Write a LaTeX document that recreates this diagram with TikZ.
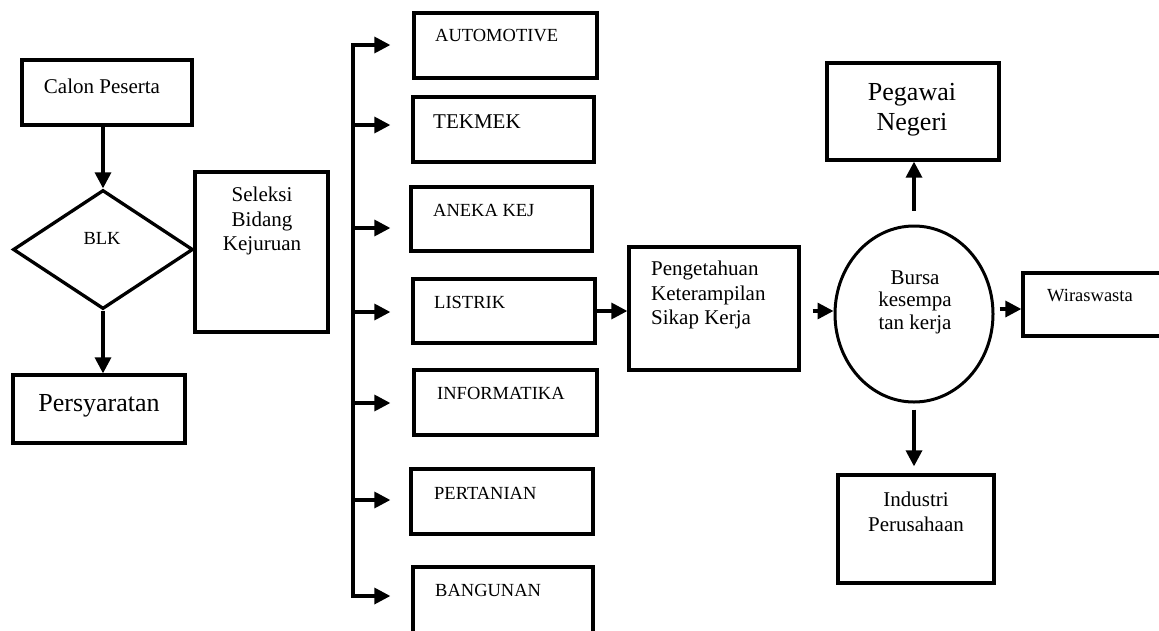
\documentclass[tikz,border=0pt]{standalone}
\usepackage{fontspec}
\setmainfont{Liberation Serif}
\usetikzlibrary{shapes.geometric,arrows.meta}
\begin{document}
\begin{tikzpicture}[x=1pt,y=-1pt,
 box/.style={draw,line width=3.3pt,inner sep=0pt},
 txt/.style={inner sep=0pt,font=\fontsize{21}{24.5}\selectfont},
 bigtxt/.style={inner sep=0pt,font=\fontsize{26}{30}\selectfont},
 smalltxt/.style={inner sep=0pt,font=\fontsize{18.5}{22}\selectfont},
 arr/.style={line width=3.3pt,-{Triangle[length=16pt,width=16pt]}}]
\useasboundingbox (0,0) rectangle (1159,630);
\fill[white] (0,0) rectangle (1159,630);
% left column
\node[box,minimum width=170pt,minimum height=65pt] (calon) at (107,92.5) {};
\node[draw,line width=3.3pt,diamond,inner sep=0pt,minimum width=180pt,minimum height=119pt] (blk) at (103,249.5) {};
\node[box,minimum width=172pt,minimum height=68pt] (persy) at (99,409) {};
\node[box,minimum width=133pt,minimum height=160pt] (sel) at (261.5,252) {};
\node[txt] (tcalon) at (102,86) {Calon Peserta};
\node[smalltxt] (tblk) at (102,238) {BLK};
\node[bigtxt] (tpersy) at (99,406) {Persyaratan};
\node[txt,align=center] (tsel) at (262,221) {Seleksi\\Bidang\\Kejuruan};
\draw[arr] (calon.south -| blk.north) -- (blk.north);
\draw[arr] (blk.south) -- (blk.south |- persy.north);
% branch boxes
\node[box,minimum width=183pt,minimum height=65pt] (auto) at (505.5,45.5) {};
\node[box,minimum width=181pt,minimum height=65pt] (tek) at (503.5,129.5) {};
\node[box,minimum width=181pt,minimum height=64pt] (aneka) at (501.5,219) {};
\node[box,minimum width=182pt,minimum height=64pt] (listrik) at (504,311) {};
\node[box,minimum width=183pt,minimum height=65pt] (info) at (505.5,402.5) {};
\node[box,minimum width=182pt,minimum height=65pt] (pert) at (502,501.5) {};
\node[box,minimum width=180pt,minimum height=73pt] (bang) at (503,603.5) {};
\node[smalltxt,anchor=west] (tauto) at (435,36) {AUTOMOTIVE};
\node[txt,anchor=west] (ttek) at (433,122) {TEKMEK};
\node[smalltxt,anchor=west] (taneka) at (433,210) {ANEKA KEJ};
\node[smalltxt,anchor=west] (tlistrik) at (434,302) {LISTRIK};
\node[smalltxt,anchor=west] (tinfo) at (437,393) {INFORMATIKA};
\node[smalltxt,anchor=west] (tpert) at (434,493) {PERTANIAN};
\node[smalltxt,anchor=west] (tbang) at (435,590) {BANGUNAN};
% trunk
\coordinate (t1) at (353,45);
\coordinate (t2) at (353,125);
\coordinate (t3) at (353,228);
\coordinate (t4) at (353,312);
\coordinate (t5) at (353,403);
\coordinate (t6) at (353,500);
\coordinate (t7) at (353,596);
\draw[line width=3.3pt,line cap=rect] (t1) -- (t7);
\draw[arr,shorten >=22pt] (t1) -- (t1 -| auto.west);
\draw[arr,shorten >=21pt] (t2) -- (t2 -| tek.west);
\draw[arr,shorten >=19pt] (t3) -- (t3 -| aneka.west);
\draw[arr,shorten >=21pt] (t4) -- (t4 -| listrik.west);
\draw[arr,shorten >=22pt] (t5) -- (t5 -| info.west);
\draw[arr,shorten >=19pt] (t6) -- (t6 -| pert.west);
\draw[arr,shorten >=21pt] (t7) -- (t7 -| bang.west);
% middle
\node[box,minimum width=170pt,minimum height=123pt] (peng) at (714,308.5) {};
\node[txt,align=left,anchor=west] (tpeng) at (651,295) {Pengetahuan\\Keterampilan\\Sikap Kerja};
\draw[arr] (listrik.east) -- (listrik.east -| peng.west);
% right part
\node[draw,ellipse,line width=3pt,inner sep=0pt,minimum width=158pt,minimum height=176pt] (ell) at (914,314) {};
\node[inner sep=0pt,align=center,font=\fontsize{21}{22.5}\selectfont] (tell) at (915,302) {Bursa\\kesempa\\tan kerja};
\node[box,minimum width=172pt,minimum height=97pt] (peg) at (913,111.5) {};
\node[bigtxt,align=center] (tpeg) at (912,110) {Pegawai\\Negeri};
\node[box,minimum width=147pt,minimum height=63pt] (wir) at (1096.5,304.5) {};
\node[smalltxt,anchor=west] (twir) at (1047,296) {Wiraswasta};
\node[box,minimum width=156pt,minimum height=108pt] (ind) at (916,529) {};
\node[txt,align=center] (tind) at (916,512) {Industri\\Perusahaan};
\draw[arr,shorten <=12pt] (peng.east |- listrik.east) -- (listrik.east -| ell.west);
\draw[arr,shorten <=14pt] (ell.north) -- (ell.north |- peg.south);
\draw[arr,shorten <=5pt] ([yshift=5pt]ell.east) -- ([yshift=5pt]ell.east -| wir.west);
\draw[arr,shorten <=6pt,shorten >=7pt] (ell.south) -- (ell.south |- ind.north);
\end{tikzpicture}
\end{document}
